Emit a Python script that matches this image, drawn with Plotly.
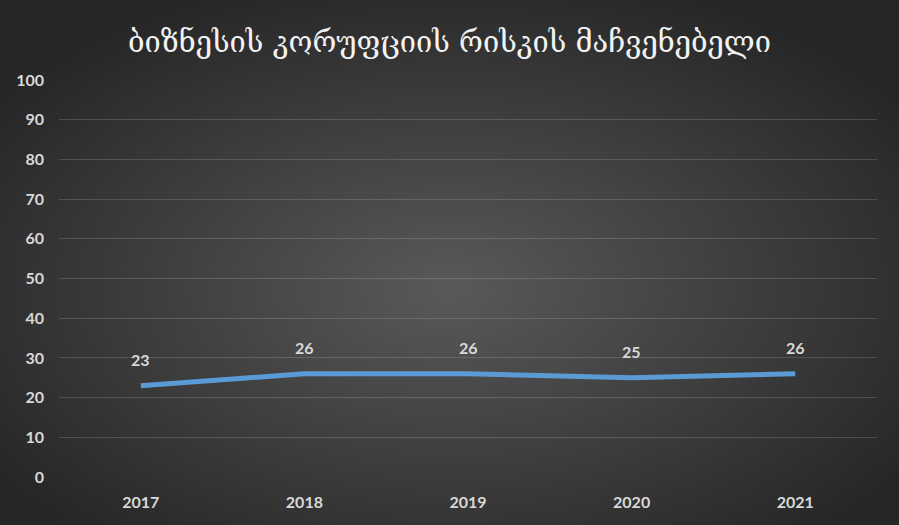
import base64
import plotly.graph_objects as go

years = ["2017", "2018", "2019", "2020", "2021"]
values = [23, 26, 26, 25, 26]
y_ticks = [0, 10, 20, 30, 40, 50, 60, 70, 80, 90, 100]
title_text = "ბიზნესის კორუფციის რისკის მაჩვენებელი"

W, H = 899, 525
L, R, T, B = 59, 22, 80, 48

svg = f'''<svg xmlns="http://www.w3.org/2000/svg" width="{W}" height="{H}" viewBox="0 0 {W} {H}" preserveAspectRatio="none">
<defs><radialGradient id="g" cx="0.5" cy="0.55" r="0.62" gradientUnits="objectBoundingBox">
<stop offset="0" stop-color="#595959"/><stop offset="1" stop-color="#262626"/></radialGradient></defs>
<rect width="{W}" height="{H}" fill="url(#g)"/></svg>'''
src = "data:image/svg+xml;base64," + base64.b64encode(svg.encode()).decode()

pw, ph = W - L - R, H - T - B

fig = go.Figure()
fig.add_trace(go.Scatter(
    x=years, y=values, mode="lines",
    line=dict(color="#5B9BD5", width=5),
    hoverinfo="skip", showlegend=False,
))
for i, v in enumerate(values):
    fig.add_annotation(x=i, y=v, xref="x", yref="y", text=str(v), showarrow=False, yshift=26,
                       font=dict(family="Lato", size=16, color="#D9D9D9", weight="bold"))

fig.update_layout(
    width=W, height=H,
    margin=dict(l=L, r=R, t=T, b=B),
    paper_bgcolor="#262626",
    plot_bgcolor="rgba(0,0,0,0)",
    title=dict(text=title_text, x=0.5, xref="container", xanchor="center", y=1 - 42 / H, yanchor="middle",
               font=dict(family="DejaVu Serif", size=29, color="#F2F2F2")),
    images=[dict(source=src, xref="paper", yref="paper",
                 x=-L / pw, y=1 + T / ph, sizex=W / pw, sizey=H / ph,
                 xanchor="left", yanchor="top", sizing="stretch", layer="below")],
    xaxis=dict(type="category", showgrid=False, zeroline=False, showline=False, ticks="",
               tickfont=dict(family="Lato", size=16, color="#D9D9D9", weight="bold"),
               ticklabelstandoff=14, range=[-0.5, 4.5]),
    yaxis=dict(range=[0, 100], tickvals=y_ticks, showgrid=True,
               gridcolor="rgba(255,255,255,0.15)", gridwidth=1, zeroline=False,
               showline=False, ticks="",
               tickfont=dict(family="Lato", size=16, color="#D9D9D9", weight="bold"),
               ticklabelstandoff=14),
)
fig.write_html("out.html", config={"displayModeBar": False},
               post_script="document.body.style.margin='0';")
